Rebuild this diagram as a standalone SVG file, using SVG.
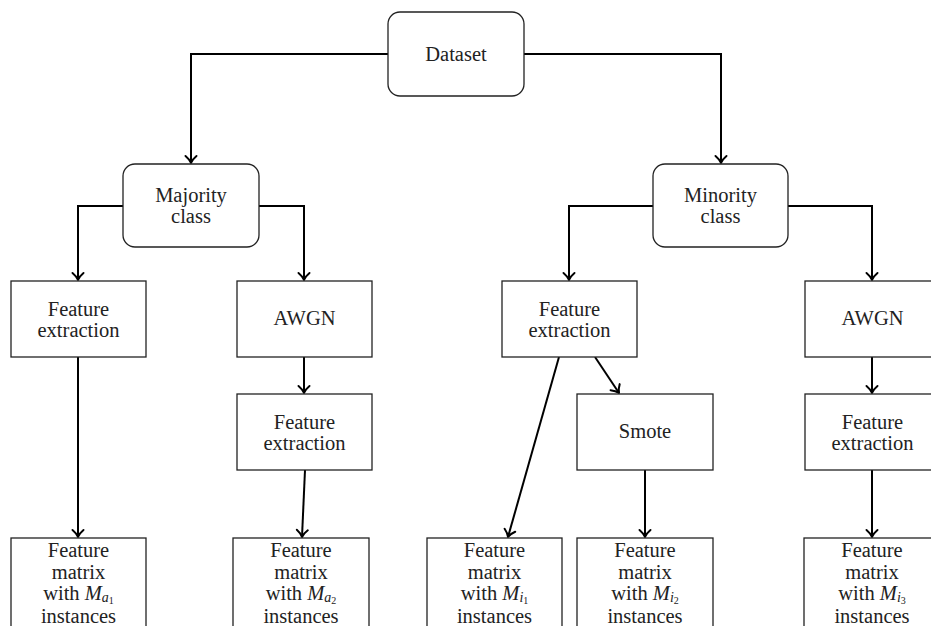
<svg xmlns="http://www.w3.org/2000/svg" width="931" height="626" viewBox="0 0 931 626">
<style>
.box{fill:#fff;stroke:#222;stroke-width:1.3}
.t{font-family:"Liberation Serif","Times New Roman",serif;font-size:20.5px;fill:#222;text-anchor:middle}
.m{font-style:italic}
.s1{font-style:italic;font-size:14px}
.s2{font-size:10px}
.conn{fill:none;stroke:#000;stroke-width:2;marker-end:url(#arr)}
</style>
<defs>
<marker id="arr" markerUnits="userSpaceOnUse" markerWidth="16" markerHeight="16" viewBox="-9 -8 11 16" refX="0" refY="0" orient="auto" overflow="visible">
<path d="M-7,-5.5 C-4.5,-2.5 -1.5,-0.6 0,0 C-1.5,0.6 -4.5,2.5 -7,5.5" fill="none" stroke="#000" stroke-width="2" stroke-linecap="round" stroke-linejoin="round"/>
</marker>
</defs>
<rect width="931" height="626" fill="#fff"/>
<g id="connectors">
<path class="conn" d="M388,54 H191 V163"/>
<path class="conn" d="M524,54 H721 V163"/>
<path class="conn" d="M123,206 H78 V280"/>
<path class="conn" d="M259,206 H304 V280"/>
<path class="conn" d="M653,206 H569 V280"/>
<path class="conn" d="M788,206 H872 V280"/>
<path class="conn" d="M78,357 V537"/>
<path class="conn" d="M304,357 V393"/>
<path class="conn" d="M305,470 L302,537"/>
<path class="conn" d="M559,357 L508,537"/>
<path class="conn" d="M595,357 L619,393"/>
<path class="conn" d="M645,470 V537"/>
<path class="conn" d="M872,357 V393"/>
<path class="conn" d="M872,470 V537"/>
</g>
<g id="dataset"><rect class="box" x="388" y="12" width="136" height="84" rx="12"/><text class="t" x="456" y="61">Dataset</text></g>
<g id="majority"><rect class="box" x="123" y="164" width="136" height="83" rx="12"/><text class="t" x="191" y="202">Majority</text><text class="t" x="191" y="223">class</text></g>
<g id="minority"><rect class="box" x="653" y="164" width="135" height="83" rx="12"/><text class="t" x="720.5" y="202">Minority</text><text class="t" x="720.5" y="223">class</text></g>
<g id="fe1"><rect class="box" x="11" y="281" width="135" height="76"/><text class="t" x="78.5" y="316">Feature</text><text class="t" x="78.5" y="337">extraction</text></g>
<g id="awgn1"><rect class="box" x="237" y="281" width="135" height="76"/><text class="t" x="304.5" y="325">AWGN</text></g>
<g id="fe2"><rect class="box" x="237" y="394" width="135" height="76"/><text class="t" x="304.5" y="429">Feature</text><text class="t" x="304.5" y="450">extraction</text></g>
<g id="fe3"><rect class="box" x="502" y="281" width="135" height="76"/><text class="t" x="569.5" y="316">Feature</text><text class="t" x="569.5" y="337">extraction</text></g>
<g id="smote"><rect class="box" x="577" y="394" width="136" height="76"/><text class="t" x="645" y="438">Smote</text></g>
<g id="awgn2"><rect class="box" x="805" y="281" width="135" height="76"/><text class="t" x="872.5" y="325">AWGN</text></g>
<g id="fe4"><rect class="box" x="805" y="394" width="135" height="76"/><text class="t" x="872.5" y="429">Feature</text><text class="t" x="872.5" y="450">extraction</text></g>
<g id="fm1"><rect class="box" x="11" y="538" width="135" height="100"/><text class="t" x="78.5" y="557">Feature</text><text class="t" x="78.5" y="579">matrix</text><text class="t" x="78.5" y="600">with <tspan class="m">M</tspan><tspan class="s1" dy="2">a</tspan><tspan class="s2" dy="1.5">1</tspan></text><text class="t" x="78.5" y="623">instances</text></g>
<g id="fm2"><rect class="box" x="233" y="538" width="136" height="100"/><text class="t" x="301" y="557">Feature</text><text class="t" x="301" y="579">matrix</text><text class="t" x="301" y="600">with <tspan class="m">M</tspan><tspan class="s1" dy="2">a</tspan><tspan class="s2" dy="1.5">2</tspan></text><text class="t" x="301" y="623">instances</text></g>
<g id="fm3"><rect class="box" x="427" y="538" width="135" height="100"/><text class="t" x="494.5" y="557">Feature</text><text class="t" x="494.5" y="579">matrix</text><text class="t" x="494.5" y="600">with <tspan class="m">M</tspan><tspan class="s1" dy="2">i</tspan><tspan class="s2" dy="1.5">1</tspan></text><text class="t" x="494.5" y="623">instances</text></g>
<g id="fm4"><rect class="box" x="577" y="538" width="136" height="100"/><text class="t" x="645" y="557">Feature</text><text class="t" x="645" y="579">matrix</text><text class="t" x="645" y="600">with <tspan class="m">M</tspan><tspan class="s1" dy="2">i</tspan><tspan class="s2" dy="1.5">2</tspan></text><text class="t" x="645" y="623">instances</text></g>
<g id="fm5"><rect class="box" x="804" y="538" width="136" height="100"/><text class="t" x="872" y="557">Feature</text><text class="t" x="872" y="579">matrix</text><text class="t" x="872" y="600">with <tspan class="m">M</tspan><tspan class="s1" dy="2">i</tspan><tspan class="s2" dy="1.5">3</tspan></text><text class="t" x="872" y="623">instances</text></g>
</svg>
